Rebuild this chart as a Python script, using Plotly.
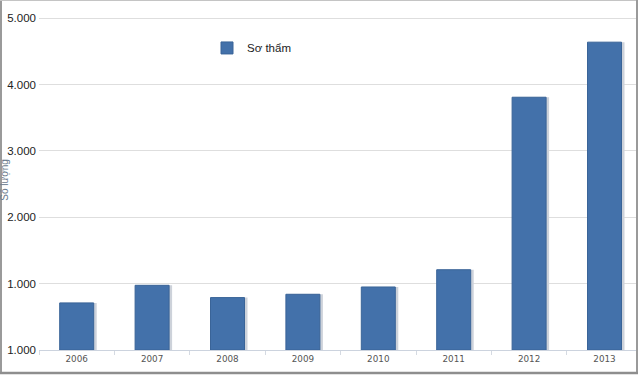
import plotly.graph_objects as go

years = ["2006", "2007", "2008", "2009", "2010", "2011", "2012", "2013"]
so_tham = [710, 975, 790, 840, 950, 1210, 3810, 4640]
y_tick_vals = [0, 1000, 2000, 3000, 4000, 5000]
y_tick_text = ["1.000", "1.000", "2.000", "3.000", "4.000", "5.000"]
series_name = "Sơ thẩm"
y_title = "Số lượng"

W, H = 640, 379
ML, MR, MT, MB = 39, 4, 5, 28.5
PW, PH = W - ML - MR, H - MT - MB
px_per_unit = 66.44 / 1000.0
ytop = PH / px_per_unit
cat_px = 75.4
xmax = -0.5 + PW / cat_px

def fx(px):
    return (px - ML) / PW

def fy(py):
    return (H - MB - py) / PH

bar_w = 34 / cat_px
shadow_off = 3 / cat_px

fig = go.Figure()
fig.add_trace(go.Bar(
    x=years, y=so_tham, width=bar_w, offset=-bar_w / 2 + shadow_off,
    marker=dict(color="#cdd2da", line=dict(width=0)),
    showlegend=False, hoverinfo="skip",
))
fig.add_trace(go.Bar(
    x=years, y=so_tham, name=series_name, width=bar_w, offset=-bar_w / 2,
    marker=dict(color="#4371aa", line=dict(color="#3a6498", width=1)),
))

fig.update_layout(
    width=W, height=H,
    margin=dict(l=ML, r=MR, t=MT, b=MB, pad=0, autoexpand=False),
    paper_bgcolor="white", plot_bgcolor="white",
    barmode="overlay",
    font=dict(family="Liberation Sans, Arial, sans-serif", color="#222"),
    showlegend=True,
    legend=dict(
        x=fx(207), y=fy(48), xanchor="left", yanchor="middle",
        bgcolor="rgba(0,0,0,0)", itemwidth=30,
        font=dict(size=11.5, color="#222", family="Liberation Sans, Arial, sans-serif"),
    ),
    xaxis=dict(
        type="category", range=[-0.5, xmax], automargin=False,
        showgrid=False, showline=True, linecolor="#ccd3de", linewidth=1,
        ticks="outside", tickson="boundaries", ticklen=4, tickcolor="#d5dae2",
        tickfont=dict(family="DejaVu Sans, Verdana, sans-serif", size=8.8, color="#555"),
        fixedrange=True,
    ),
    yaxis=dict(
        range=[0, ytop], tickvals=y_tick_vals, ticktext=y_tick_text, automargin=False,
        showgrid=True, gridcolor="#dedede", gridwidth=1,
        zeroline=False, showline=False, ticks="",
        tickfont=dict(size=11.5, color="#222"), ticklabelstandoff=2,
        fixedrange=True,
    ),
    annotations=[dict(
        text=y_title, xref="paper", yref="paper",
        x=fx(5), y=fy(180), xanchor="center", yanchor="middle",
        textangle=-90, showarrow=False,
        font=dict(size=10, color="#6b7b8e"),
    )],
    shapes=[
        dict(type="line", xref="paper", yref="paper",
             x0=fx(1), x1=fx(1), y0=fy(374), y1=fy(0), line=dict(color="#9a9a9a", width=2)),
        dict(type="line", xref="paper", yref="paper",
             x0=fx(0), x1=fx(637), y0=fy(0.5), y1=fy(0.5), line=dict(color="#c4c4c4", width=1)),
        dict(type="line", xref="paper", yref="paper",
             x0=fx(637), x1=fx(637), y0=fy(374), y1=fy(0), line=dict(color="#9a9a9a", width=2)),
        dict(type="line", xref="paper", yref="paper",
             x0=fx(0), x1=fx(638), y0=fy(373.5), y1=fy(373.5), line=dict(color="#8e8e8e", width=2.5)),
    ],
)

fig.write_html(
    "out.html",
    config={"displayModeBar": False},
    post_script="document.body.style.margin='0';document.body.style.overflow='hidden';",
)
